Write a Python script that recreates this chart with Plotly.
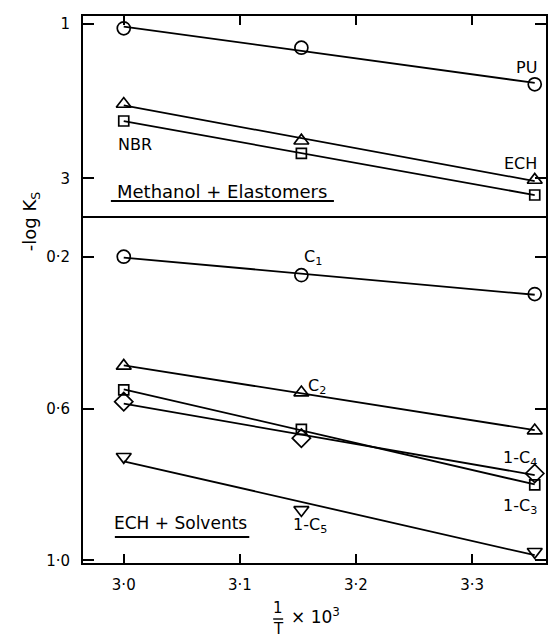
import numpy as np
import plotly.graph_objects as go

# ---------------- data ----------------
inv_T = [3.0, 3.153, 3.354]          # 1/T x 10^3

# Methanol + Elastomers (-log Ks)
PU = [1.06, 1.31, 1.784]
ECH = [2.039, 2.514, 3.022]
NBR = [2.259, 2.677, 3.216]

# ECH + Solvents (-log Ks)
C1 = [0.2005, 0.249, 0.299]
C2 = [0.488, 0.558, 0.658]
C3_1 = [0.551, 0.655, 0.801]
C4_1 = [0.582, 0.678, 0.771]
C5_1 = [0.727, 0.867, 0.977]

top_ticks = [1, 3]
top_ticktext = ["1", "3"]
bot_ticks = [0.2, 0.6, 1.0]
bot_ticktext = ["0·2", "0·6", "1·0"]
x_ticks = [3.0, 3.1, 3.2, 3.3]
x_ticktext = ["3·0", "3·1", "3·2", "3·3"]

# ---------------- layout geometry ----------------
W, H = 550, 638
L, R, T, B = 83, 2, 16, 75
PW, PH = W - L - R, H - T - B
DIV = 216  # pixel row of divider


def px(x):
    return (x - L) / PW


def py(y):
    return (H - B - y) / PH


FONT = "DejaVu Sans, Liberation Sans, sans-serif"
LW = 1.8

fig = go.Figure()

top_series = [
    ("PU", PU, "circle-open", 13),
    ("ECH", ECH, "triangle-up-open", 13),
    ("NBR", NBR, "square-open", 10),
]
bot_series = [
    ("C1", C1, "circle-open", 13),
    ("C2", C2, "triangle-up-open", 13),
    ("1-C3", C3_1, "square-open", 10),
    ("1-C4", C4_1, "diamond-open", 14),
    ("1-C5", C5_1, "triangle-down-open", 13),
]

xfit = np.array([min(inv_T), max(inv_T)])


def add_series(series, xa, ya):
    for name, vals, sym, size in series:
        coef = np.polyfit(inv_T, vals, 1)
        fig.add_trace(go.Scatter(
            x=xfit, y=np.polyval(coef, xfit), mode="lines",
            line=dict(color="black", width=LW), xaxis=xa, yaxis=ya,
            showlegend=False, hoverinfo="skip"))
        fig.add_trace(go.Scatter(
            x=inv_T, y=vals, mode="markers", name=name,
            marker=dict(symbol=sym, size=size, color="black",
                        line=dict(width=1.7, color="black")),
            xaxis=xa, yaxis=ya, showlegend=False))


add_series(top_series, "x2", "y2")
add_series(bot_series, "x", "y")

axis_common = dict(showline=True, linecolor="black", linewidth=2,
                   ticks="inside", tickcolor="black", tickwidth=1.8,
                   showgrid=False, zeroline=False,
                   tickfont=dict(family=FONT, size=15, color="black"))

split = py(DIV)

fig.update_layout(
    width=W, height=H,
    margin=dict(l=L, r=R, t=T, b=B),
    paper_bgcolor="white", plot_bgcolor="white",
    font=dict(family=FONT, size=16, color="black"),
    xaxis=dict(**axis_common, domain=[0, 1], anchor="y",
               range=[2.9649, 3.3637], tickvals=x_ticks,
               ticktext=x_ticktext, ticklen=9, mirror=False,
               ticklabelstandoff=7),
    xaxis2=dict(**axis_common, domain=[0, 1], anchor="y2", side="top",
                matches="x", range=[2.9649, 3.3637], tickvals=x_ticks,
                showticklabels=False, ticklen=9, mirror=True),
    yaxis=dict(**axis_common, domain=[0, split], anchor="x",
               range=[1.0066, 0.0934], tickvals=bot_ticks,
               ticktext=bot_ticktext, ticklen=11, mirror="ticks",
               ticklabelstandoff=8),
    yaxis2=dict(**axis_common, domain=[split, 1], anchor="x2",
                range=[3.488, 0.900], tickvals=top_ticks,
                ticktext=top_ticktext, ticklen=11, mirror="ticks",
                ticklabelstandoff=8),
)

# ---------------- annotations ----------------
def label(text, x, y, size=16, xanchor="center"):
    fig.add_annotation(text=text, x=px(x), y=py(y), xref="paper",
                       yref="paper", showarrow=False, xanchor=xanchor,
                       yanchor="middle",
                       font=dict(family=FONT, size=size, color="black"))


label("PU", 528, 68)
label("ECH", 522, 163)
label("NBR", 135, 144)
label("Methanol + Elastomers", 223, 191, size=18)
label("C<sub>1</sub>", 314, 257)
label("C<sub>2</sub>", 318, 386)
label("1-C<sub>4</sub>", 522, 458)
label("1-C<sub>3</sub>", 522, 506)
label("1-C<sub>5</sub>", 311, 525)
label("ECH + Solvents", 181, 523, size=17)

# underlines
for x0, x1, y in [(111, 335, 201), (115, 250, 537)]:
    fig.add_shape(type="line", xref="paper", yref="paper",
                  x0=px(x0), x1=px(x1), y0=py(y), y1=py(y),
                  line=dict(color="black", width=1.8))

# y axis title
fig.add_annotation(text="-log K<sub>S</sub>", x=px(31), y=py(222),
                   xref="paper", yref="paper", showarrow=False,
                   textangle=-90, xanchor="center", yanchor="middle",
                   font=dict(family=FONT, size=18, color="black"))

# x axis title: 1/T x 10^3
label("1", 279, 608, size=15)
label("T", 279, 629, size=15)
fig.add_shape(type="line", xref="paper", yref="paper",
              x0=px(274), x1=px(284), y0=py(619), y1=py(619),
              line=dict(color="black", width=1.4))
label("× 10<sup>3</sup>", 290, 616, size=17, xanchor="left")

fig.write_html("out.html", config={"displayModeBar": False},
               post_script="document.body.style.margin='0px';"
                           "document.body.style.overflow='hidden';")
